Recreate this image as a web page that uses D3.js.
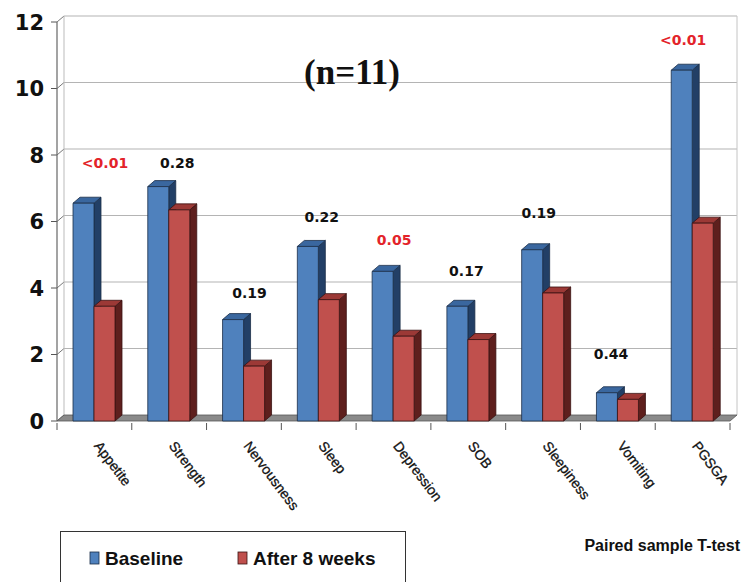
<!DOCTYPE html>
<html>
<head>
<meta charset="utf-8">
<script src="https://cdn.jsdelivr.net/npm/d3@7"></script>
<style>
    body { margin: 0; background: #fff; }
    svg { display: block; }
</style>
</head>
<body>
<div id="chart"></div>
<script>
// chart data
const categories = ["Appetite", "Strength", "Nervousness", "Sleep", "Depression", "SOB", "Sleepiness", "Vomiting", "PGSGA"];
const baseline = [6.55, 7.05, 3.05, 5.25, 4.5, 3.45, 5.15, 0.85, 10.55];
const after8Weeks = [3.45, 6.35, 1.65, 3.65, 2.55, 2.45, 3.85, 0.65, 5.95];
const pValues = ["<0.01", "0.28", "0.19", "0.22", "0.05", "0.17", "0.19", "0.44", "<0.01"];
const pLabelLevel = [7.6, 7.6, 3.7, 6.0, 5.3, 4.35, 6.1, 1.85, 11.3];
const significant = [true, false, false, false, true, false, false, false, true];
const yTicks = [0, 2, 4, 6, 8, 10, 12];
const seriesNames = ["Baseline", "After 8 weeks"];

const width = 742, height = 582;
const depth = {dx: 7, dy: -6};
const barW = 21, barOffset = 16;

const faces = [
    {front: "#4f81bd", top: "#3a679f", side: "#223f66", stroke: "#1b2d48"},
    {front: "#c0504d", top: "#9c3936", side: "#5e1f1d", stroke: "#3a1212"}
];

const svg = d3.select("#chart").append("svg")
    .attr("width", width)
    .attr("height", height);

const x = d3.scaleBand().domain(categories).range([57, 730]);
const y = d3.scaleLinear().domain([0, 12]).range([421, 22]);

// back wall gridlines and left wall
const grid = svg.append("g");
yTicks.forEach(t => {
    if (t > 0) {
        grid.append("line")
            .attr("x1", 57 + depth.dx).attr("x2", 730 + depth.dx)
            .attr("y1", y(t) + depth.dy).attr("y2", y(t) + depth.dy)
            .attr("stroke", "#b4b4b4").attr("stroke-width", 1.2);
    }
    grid.append("line")
        .attr("x1", 57).attr("x2", 57 + depth.dx)
        .attr("y1", y(t)).attr("y2", y(t) + depth.dy)
        .attr("stroke", "#777").attr("stroke-width", 1);
    grid.append("line")
        .attr("x1", 51).attr("x2", 57)
        .attr("y1", y(t)).attr("y2", y(t))
        .attr("stroke", "#555").attr("stroke-width", 1);
});
grid.append("line")
    .attr("x1", 57 + depth.dx).attr("x2", 57 + depth.dx)
    .attr("y1", y(0) + depth.dy).attr("y2", y(12) + depth.dy)
    .attr("stroke", "#bbb");
grid.append("line")
    .attr("x1", 730 + depth.dx).attr("x2", 730 + depth.dx)
    .attr("y1", y(0) + depth.dy).attr("y2", y(12) + depth.dy)
    .attr("stroke", "#c4c4c4");
grid.append("line")
    .attr("x1", 57).attr("x2", 57)
    .attr("y1", y(0)).attr("y2", y(12))
    .attr("stroke", "#666").attr("stroke-width", 1.2);

// floor
svg.append("polygon")
    .attr("points", [[57, y(0)], [730, y(0)], [730 + depth.dx, y(0) + depth.dy], [57 + depth.dx, y(0) + depth.dy]].join(" "))
    .attr("fill", "#8a8a8a").attr("stroke", "#555").attr("stroke-width", 0.8);

// x ticks
categories.concat([null]).forEach((c, i) => {
    const xp = c ? x(c) : x.range()[1];
    svg.append("line")
        .attr("x1", xp).attr("x2", xp)
        .attr("y1", y(0) + 2).attr("y2", y(0) + 9)
        .attr("stroke", "#555");
});

// bars
const bars = svg.append("g");
categories.forEach((c, i) => {
    [baseline[i], after8Weeks[i]].forEach((v, s) => {
        const f = faces[s];
        const x0 = x(c) + barOffset + s * barW, x1 = x0 + barW;
        const yT = y(v), yB = y(0);
        const g = bars.append("g").attr("stroke", f.stroke).attr("stroke-width", 0.8).attr("stroke-linejoin", "round");
        g.append("polygon")
            .attr("points", [[x1, yT], [x1 + depth.dx, yT + depth.dy], [x1 + depth.dx, yB + depth.dy], [x1, yB]].join(" "))
            .attr("fill", f.side);
        g.append("polygon")
            .attr("points", [[x0, yT], [x1, yT], [x1 + depth.dx, yT + depth.dy], [x0 + depth.dx, yT + depth.dy]].join(" "))
            .attr("fill", f.top);
        g.append("rect")
            .attr("x", x0).attr("y", yT)
            .attr("width", barW).attr("height", yB - yT)
            .attr("fill", f.front);
    });
});

// y tick labels
svg.append("g").selectAll("text")
    .data(yTicks)
    .join("text")
    .attr("x", 44).attr("y", d => y(d))
    .attr("dy", "0.36em")
    .attr("text-anchor", "end")
    .style("font-family", "DejaVu Sans, sans-serif")
    .style("font-weight", "bold")
    .style("font-size", "21px")
    .attr("fill", "#111")
    .text(d => d);

// category labels
svg.append("g").selectAll("text")
    .data(categories)
    .join("text")
    .attr("transform", d => `translate(${x(d) + x.bandwidth() / 2 - 1}, 446) rotate(53)`)
    .style("font-family", "Liberation Sans, Arial, sans-serif")
    .style("font-size", "14px")
    .attr("fill", "#111")
    .attr("stroke", "#111")
    .attr("stroke-width", 0.3)
    .text(d => d);

// p-values
svg.append("g").selectAll("text")
    .data(pValues)
    .join("text")
    .attr("x", (d, i) => x(categories[i]) + barOffset + barW + 11 - 2.5 * i)
    .attr("y", (d, i) => y(pLabelLevel[i]))
    .attr("text-anchor", "middle")
    .style("font-family", "DejaVu Sans, sans-serif")
    .style("font-weight", "bold")
    .style("font-size", "14px")
    .attr("fill", (d, i) => significant[i] ? "#e3232a" : "#111")
    .text(d => d);

// title
svg.append("text")
    .attr("x", 352).attr("y", 84)
    .attr("text-anchor", "middle")
    .style("font-family", "Liberation Serif, Times New Roman, serif")
    .style("font-weight", "bold")
    .style("font-size", "35px")
    .attr("fill", "#111")
    .text("(n=11)");

// legend
const legend = svg.append("g");
legend.append("rect")
    .attr("x", 60.5).attr("y", 531.5)
    .attr("width", 345).attr("height", 70)
    .attr("fill", "#fff").attr("stroke", "#333");
const legendX = [90, 238];
seriesNames.forEach((name, s) => {
    legend.append("rect")
        .attr("x", legendX[s]).attr("y", 552)
        .attr("width", 9).attr("height", 12)
        .attr("fill", faces[s].front).attr("stroke", faces[s].stroke).attr("stroke-width", 0.8);
    legend.append("text")
        .attr("x", legendX[s] + 15).attr("y", 565)
        .style("font-family", "Liberation Sans, Arial, sans-serif")
        .style("font-weight", "bold")
        .style("font-size", "19px")
        .attr("fill", "#111")
        .text(name);
});

svg.append("text")
    .attr("x", 740).attr("y", 551)
    .attr("text-anchor", "end")
    .style("font-family", "Liberation Sans, Arial, sans-serif")
    .style("font-weight", "bold")
    .style("font-size", "16px")
    .attr("fill", "#111")
    .text("Paired sample T-test");
</script>
</body>
</html>
